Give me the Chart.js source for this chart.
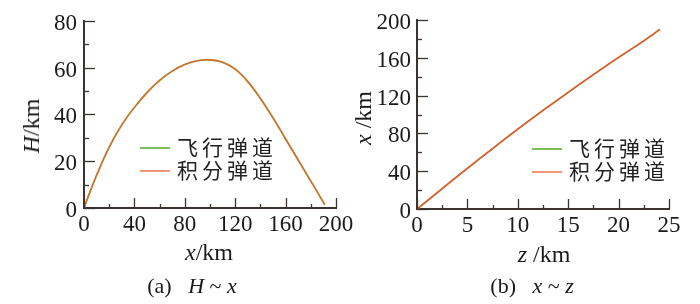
<!DOCTYPE html>
<html>
<head>
<meta charset="utf-8">
<script src="https://cdn.jsdelivr.net/npm/chart.js@4.4.0/dist/chart.umd.min.js"></script>
<style>
  body { margin: 0; background: #fff; width: 700px; height: 304px; overflow: hidden; position: relative; }
  .box { position: absolute; top: 0; height: 304px; }
  .lbl { position: absolute; font-family: 'Liberation Serif', serif; color: #1a1a1a; white-space: nowrap; line-height: 1; }
  .lbl i { font-style: italic; }
  .leg { position: absolute; font-family: 'Noto Sans CJK SC', sans-serif; font-size: 21px; letter-spacing: 4px; color: #222; white-space: nowrap; line-height: 1; }
  .leg span.sw { display: inline-block; width: 30px; height: 0; border-top: 2px solid; vertical-align: middle; margin-right: 7px; position: relative; top: -1px; }
</style>
</head>
<body>
<div class="box" style="left:0;width:370px"><canvas id="chartA"></canvas></div>
<div class="box" style="left:350px;width:350px"><canvas id="chartB"></canvas></div>

<div class="lbl" style="left:31px;top:126px;font-size:24px;transform:translate(-50%,-50%) rotate(-90deg)"><i>H</i>/km</div>
<div class="lbl" style="left:209px;top:252px;font-size:24px;transform:translate(-50%,-50%)"><i>x</i>/km</div>
<div class="lbl" style="left:192px;top:286px;font-size:22px;transform:translate(-50%,-50%)">(a)&nbsp;&nbsp;&nbsp;<i>H</i>&nbsp;~&nbsp;<i>x</i></div>

<div class="lbl" style="left:363px;top:118px;font-size:24px;transform:translate(-50%,-50%) rotate(-90deg)"><i>x</i> /km</div>
<div class="lbl" style="left:544px;top:254px;font-size:24px;transform:translate(-50%,-50%)"><i>z</i> /km</div>
<div class="lbl" style="left:532px;top:286px;font-size:22px;transform:translate(-50%,-50%)">(b)&nbsp;&nbsp;&nbsp;<i>x</i>&nbsp;~&nbsp;<i>z</i></div>

<div class="leg" id="legA" style="left:140px;top:136px"></div>
<div class="leg" id="legB" style="left:532px;top:137px"></div>

<script>
// data block
const seriesNames = ['飞行弹道', '积分弹道'];
const legendColors = ['#7cbf5a', '#f2977c'];

// (a) H ~ x
const rangeX = [0, 5, 10, 20, 30, 40, 50, 60, 70, 80, 90, 100, 110, 120, 130, 140, 150, 160, 170, 180, 185, 191];
const flightH = [0, 7.2, 14, 26, 35.5, 43, 49.3, 54.5, 58.5, 61.3, 62.9, 63.3, 62.3, 59.3, 54, 46.8, 38.5, 29.5, 20.5, 11.5, 7, 1.5];
const integH = [0, 7.2, 14, 26, 35.5, 43, 49.3, 54.5, 58.5, 61.3, 62.9, 63.3, 62.3, 59.3, 54, 46.8, 38.5, 29.5, 20.5, 11.5, 7, 1.5];

// (b) x ~ z
const crossZ = [0, 2.5, 5, 7.5, 10, 12.5, 15, 17.5, 20, 22.5, 24.1];
const flightX = [0, 21.6, 43, 64, 84.5, 104.3, 123.5, 142.2, 160.4, 178, 190];
const integX = [0, 21.6, 43, 64, 84.5, 104.3, 123.5, 142.2, 160.4, 178, 190];

const axisColor = '#3b3330';
const tickFont = { family: 'Liberation Serif', size: 23 };

const toPoints = (xs, ys) => xs.map((x, i) => ({ x, y: ys[i] }));

// draws the inward major/minor ticks like the original plot
const inwardTicks = {
    id: 'inwardTicks',
    afterDraw(chart, args, opts) {
        const { ctx, chartArea, scales } = chart;
        ctx.save();
        ctx.strokeStyle = axisColor;
        ctx.lineWidth = 1.3;
        const xs = scales.x, ys = scales.y;
        const stepX = xs.options.ticks.stepSize, stepY = ys.options.ticks.stepSize;
        for (let v = xs.min; v <= xs.max + 1e-9; v += opts.minorX) {
            const px = Math.round(xs.getPixelForValue(v)) + 0.5;
            const major = Math.abs(v / stepX - Math.round(v / stepX)) < 1e-6;
            ctx.beginPath();
            ctx.moveTo(px, chartArea.bottom);
            ctx.lineTo(px, chartArea.bottom - (major ? 10 : 4));
            ctx.stroke();
        }
        for (let v = ys.min; v <= ys.max + 1e-9; v += opts.minorY) {
            const py = Math.round(ys.getPixelForValue(v)) + 0.5;
            const major = Math.abs(v / stepY - Math.round(v / stepY)) < 1e-6;
            ctx.beginPath();
            ctx.moveTo(chartArea.left, py);
            ctx.lineTo(chartArea.left + (major ? 11 : 5), py);
            ctx.stroke();
        }
        ctx.restore();
    }
};

function makeConfig(xVals, ySeries, lineColor, opt) {
    return {
        type: 'line',
        data: {
            datasets: ySeries.map((ys, i) => ({
                label: seriesNames[i],
                data: toPoints(xVals, ys),
                borderColor: i === 0 ? legendColors[0] : lineColor,
                borderWidth: i === 0 ? 1.6 : 1.6,
                pointRadius: 0,
                tension: 0.4,
                order: i === 0 ? 1 : 0, // integrated trajectory on top
                fill: false
            }))
        },
        options: {
            responsive: false,
            animation: false,
            layout: { padding: opt.padding },
            scales: {
                x: {
                    type: 'linear',
                    min: opt.xMin, max: opt.xMax,
                    ticks: { stepSize: opt.xStep, font: tickFont, color: '#1a1a1a', padding: 3, maxRotation: 0, autoSkip: false },
                    grid: { display: true, drawOnChartArea: false, drawTicks: false },
                    border: { display: true, color: axisColor, width: 2 },
                    afterFit: s => { s.height = opt.xHeight; }
                },
                y: {
                    type: 'linear',
                    min: opt.yMin, max: opt.yMax,
                    ticks: { stepSize: opt.yStep, font: tickFont, color: '#1a1a1a', padding: opt.yPad, labelOffset: 3 },
                    grid: { display: true, drawOnChartArea: false, drawTicks: false },
                    border: { display: true, color: axisColor, width: 2 },
                    afterFit: s => { s.width = opt.yWidth; }
                }
            },
            plugins: {
                legend: { display: false },
                tooltip: { enabled: false },
                inwardTicks: { minorX: opt.minorX, minorY: opt.minorY }
            }
        },
        plugins: [inwardTicks]
    };
}

function buildLegend(el) {
    el.innerHTML = seriesNames.map((name, i) =>
        '<div style="height:23px"><span class="sw" style="border-color:' + legendColors[i] + '"></span>' + name + '</div>'
    ).join('');
}

// render init block
const canvasA = document.getElementById('chartA');
canvasA.width = 370; canvasA.height = 304;
const canvasB = document.getElementById('chartB');
canvasB.width = 350; canvasB.height = 304;

const chartA = new Chart(canvasA, makeConfig(rangeX, [flightH, integH], '#d4702e', {
    padding: { left: 0, top: 18, right: 34, bottom: 0 },
    xMin: 0, xMax: 200, xStep: 40, minorX: 20,
    yMin: 0, yMax: 80, yStep: 20, minorY: 10,
    xHeight: 96, yWidth: 84, yPad: 7
}));

const chartB = new Chart(canvasB, makeConfig(crossZ, [flightX, integX], '#e8562e', {
    padding: { left: 0, top: 20, right: 31, bottom: 0 },
    xMin: 0, xMax: 25, xStep: 5, minorX: 2.5,
    yMin: 0, yMax: 200, yStep: 40, minorY: 20,
    xHeight: 95, yWidth: 67, yPad: 6
}));

buildLegend(document.getElementById('legA'));
buildLegend(document.getElementById('legB'));
</script>
</body>
</html>
